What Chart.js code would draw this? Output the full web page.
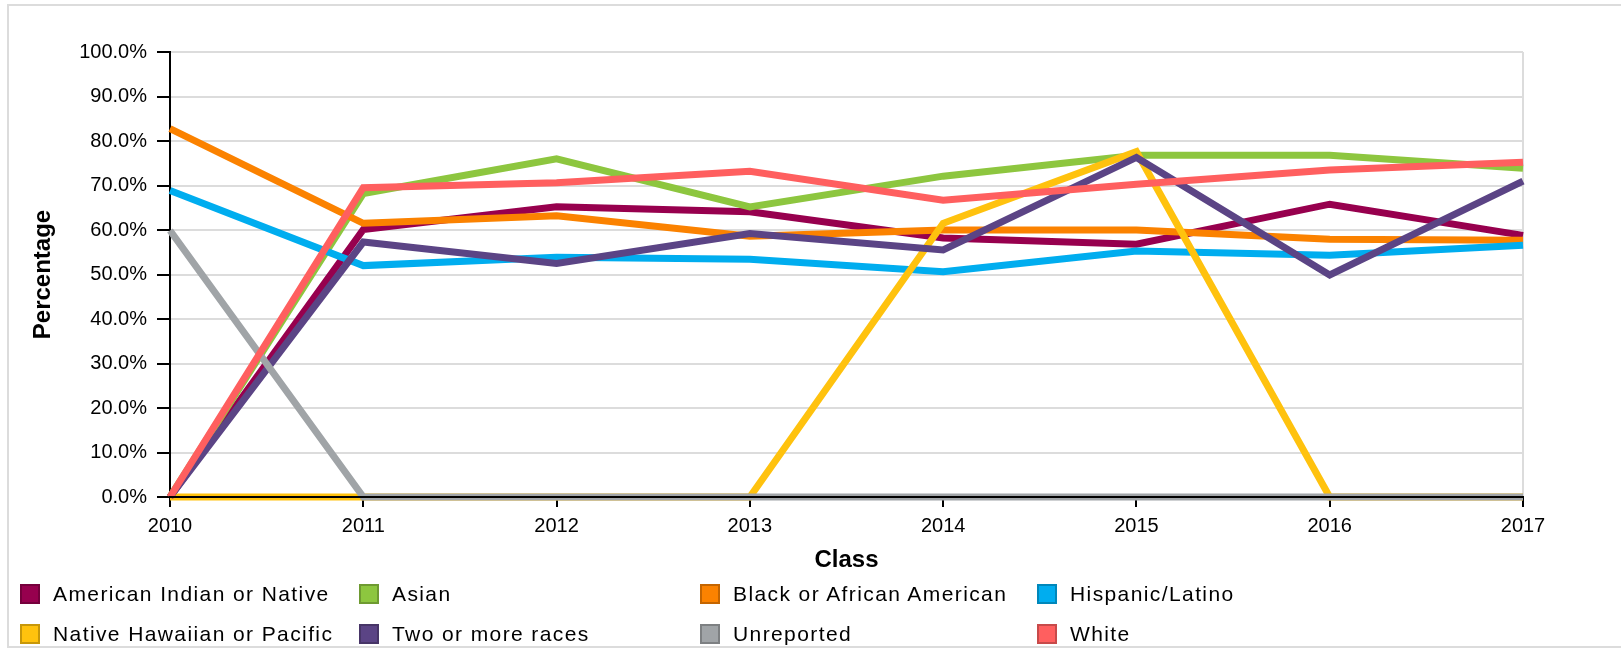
<!DOCTYPE html>
<html>
<head>
<meta charset="utf-8">
<script src="https://cdn.jsdelivr.net/npm/chart.js@4.4.1/dist/chart.umd.min.js"></script>
<style>
  html, body { margin: 0; padding: 0; background: #fff; }
  #wrap { position: relative; width: 1621px; height: 650px; overflow: hidden; }
  #frame { position: absolute; left: 7px; top: 4px; width: 1680px; height: 644px;
           border: 2px solid #dcdcdc; box-sizing: border-box; }
  #chart { position: absolute; left: 0; top: 0; }
  #legend { position: absolute; left: 0; top: 0; width: 1621px; height: 650px;
            font-family: 'Liberation Sans', Arial, sans-serif; font-size: 21px; color: #000; }
  .item { position: absolute; display: flex; align-items: center; white-space: nowrap;
          height: 24px; letter-spacing: 1.4px; }
  .sw { width: 20px; height: 20px; margin-right: 13px; box-sizing: border-box;
        box-shadow: inset 0 0 0 2px rgba(0,0,0,0.22); }
</style>
</head>
<body>
<div id="wrap">
  <div id="frame"></div>
  <canvas id="chart" width="1621" height="650"></canvas>
  <div id="legend"></div>
</div>
<script>
// categories
const classes = ['2010', '2011', '2012', '2013', '2014', '2015', '2016', '2017'];

// series (percent)
const americanIndian = [0, 60.1, 65.2, 64.1, 58.2, 56.8, 65.8, 58.8];
const asian          = [0, 68.2, 76.0, 65.2, 72.1, 76.8, 76.8, 73.9];
const black          = [82.8, 61.5, 63.2, 58.6, 60.0, 60.0, 57.9, 57.7];
const hispanic       = [68.9, 52.0, 53.9, 53.4, 50.6, 55.3, 54.3, 56.6];
const nativeHawaiian = [0, 0, 0, 0, 61.5, 77.6, 0, 0];
const twoOrMore      = [0, 57.3, 52.5, 59.2, 55.5, 76.3, 49.9, 71.0];
const unreported     = [59.9, 0, 0, 0, 0, 0, 0, 0];
const white          = [0, 69.5, 70.6, 73.2, 66.7, 70.3, 73.5, 75.2];

const seriesNames = ['American Indian or Native', 'Asian', 'Black or African American', 'Hispanic/Latino',
                     'Native Hawaiian or Pacific', 'Two or more races', 'Unreported', 'White'];
const seriesData = [americanIndian, asian, black, hispanic, nativeHawaiian, twoOrMore, unreported, white];
const seriesColors = ['#97004e', '#8dc63f', '#fb8200', '#00adef', '#ffc20e', '#5b4485', '#a0a4a7', '#ff5f5f'];

// y ticks
const yMin = 0, yMax = 100, yStep = 10;

Chart.defaults.font.family = "'Liberation Sans', Arial, sans-serif";
Chart.defaults.color = '#000';

const datasets = seriesNames.map((name, i) => ({
  label: name,
  data: seriesData[i],
  borderColor: seriesColors[i],
  backgroundColor: seriesColors[i],
  borderWidth: 7,
  pointRadius: 0,
  pointHoverRadius: 0,
  tension: 0,
  fill: false,
  clip: false,
  order: seriesNames.length - i   // later series on top
}));

const chart = new Chart(document.getElementById('chart'), {
  type: 'line',
  data: { labels: classes, datasets },
  options: {
    responsive: false,
    animation: false,
    devicePixelRatio: 1,
    layout: { padding: { left: 0, right: 98, top: 52, bottom: 73 } },
    plugins: { legend: { display: false }, tooltip: { enabled: false } },
    scales: {
      x: {
        offset: false,
        afterFit: (s) => { s.height = 80; },
        grid: {
          color: (c) => (c.index === classes.length - 1 ? '#dcdcdc' : 'rgba(0,0,0,0)'),
          lineWidth: 2,
          tickColor: '#000',
          tickWidth: 2,
          tickLength: 10
        },
        border: { color: '#000', width: 2, z: 1 },
        ticks: { font: { size: 20 }, padding: 7, maxRotation: 0 },
        title: { display: true, text: 'Class', font: { size: 24, weight: 'bold' }, padding: { top: 0, bottom: 2 } }
      },
      y: {
        min: yMin, max: yMax,
        afterFit: (s) => { s.width = 170; },
        grid: { color: '#dcdcdc', lineWidth: 2, tickColor: '#000', tickWidth: 2, tickLength: 13 },
        border: { color: '#000', width: 2 },
        ticks: { stepSize: yStep, font: { size: 20 }, padding: 10, callback: (v) => v.toFixed(1) + '%' },
        title: { display: true, text: 'Percentage', font: { size: 24, weight: 'bold' }, padding: { top: 29, bottom: 0 } }
      }
    }
  }
});

// legend, four columns by two rows
const colX = [20, 359, 700, 1037];
const rowY = [582, 622];
const legend = document.getElementById('legend');
chart.data.datasets.forEach((ds, i) => {
  const item = document.createElement('div');
  item.className = 'item';
  item.style.left = colX[i % 4] + 'px';
  item.style.top = rowY[Math.floor(i / 4)] + 'px';
  const sw = document.createElement('span');
  sw.className = 'sw';
  sw.style.background = ds.borderColor;
  const tx = document.createElement('span');
  tx.textContent = ds.label;
  item.appendChild(sw);
  item.appendChild(tx);
  legend.appendChild(item);
});
</script>
</body>
</html>
